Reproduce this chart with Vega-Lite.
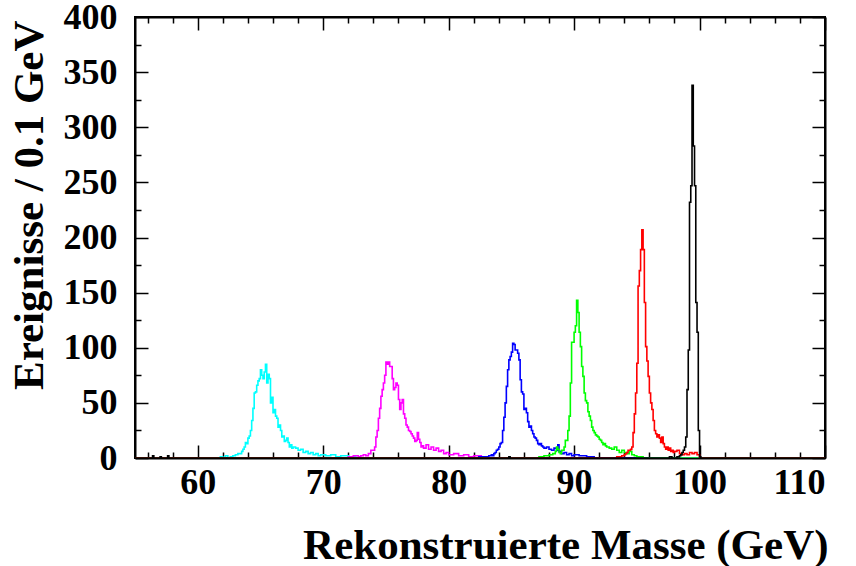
{
  "$schema": "https://vega.github.io/schema/vega-lite/v6.json",
  "width": 690,
  "height": 441,
  "autosize": "none",
  "padding": {"left": 135, "top": 17, "right": 31, "bottom": 108},
  "background": "white",
  "config": {
    "view": {"stroke": "black", "strokeWidth": 2},
    "axis": {
      "grid": false,
      "domainColor": "black",
      "domainWidth": 2,
      "tickColor": "black",
      "tickWidth": 1.5,
      "labelFont": "Liberation Serif",
      "labelFontWeight": "bold",
      "labelFontSize": 36,
      "labelColor": "black",
      "titleFont": "Liberation Serif",
      "titleFontWeight": "bold",
      "titleFontSize": 43,
      "titleColor": "black"
    }
  },
  "data": {
    "values": [
      {"s": "c", "m": 55, "n": 0}, {"s": "c", "m": 61.8, "n": 1}, {"s": "c", "m": 62.0, "n": 0}, {"s": "c", "m": 62.2, "n": 2}, {"s": "c", "m": 62.4, "n": 0}, {"s": "c", "m": 62.6, "n": 1}, {"s": "c", "m": 62.8, "n": 2}, {"s": "c", "m": 63.0, "n": 3}, {"s": "c", "m": 63.2, "n": 4}, {"s": "c", "m": 63.4, "n": 4}, {"s": "c", "m": 63.5, "n": 6}, {"s": "c", "m": 63.6, "n": 8}, {"s": "c", "m": 63.7, "n": 10}, {"s": "c", "m": 63.8, "n": 14}, {"s": "c", "m": 63.9, "n": 13}, {"s": "c", "m": 64.0, "n": 18}, {"s": "c", "m": 64.1, "n": 20}, {"s": "c", "m": 64.2, "n": 25}, {"s": "c", "m": 64.3, "n": 34}, {"s": "c", "m": 64.4, "n": 45}, {"s": "c", "m": 64.5, "n": 59}, {"s": "c", "m": 64.6, "n": 60}, {"s": "c", "m": 64.7, "n": 66}, {"s": "c", "m": 64.8, "n": 70}, {"s": "c", "m": 64.9, "n": 72}, {"s": "c", "m": 65.0, "n": 80}, {"s": "c", "m": 65.1, "n": 75}, {"s": "c", "m": 65.2, "n": 72}, {"s": "c", "m": 65.3, "n": 78}, {"s": "c", "m": 65.4, "n": 85}, {"s": "c", "m": 65.5, "n": 68}, {"s": "c", "m": 65.6, "n": 76}, {"s": "c", "m": 65.7, "n": 72}, {"s": "c", "m": 65.8, "n": 50}, {"s": "c", "m": 65.9, "n": 55}, {"s": "c", "m": 66.0, "n": 41}, {"s": "c", "m": 66.1, "n": 44}, {"s": "c", "m": 66.2, "n": 38}, {"s": "c", "m": 66.3, "n": 36}, {"s": "c", "m": 66.4, "n": 28}, {"s": "c", "m": 66.5, "n": 30}, {"s": "c", "m": 66.6, "n": 25}, {"s": "c", "m": 66.7, "n": 19}, {"s": "c", "m": 66.8, "n": 20}, {"s": "c", "m": 66.9, "n": 15}, {"s": "c", "m": 67.0, "n": 16}, {"s": "c", "m": 67.1, "n": 18}, {"s": "c", "m": 67.2, "n": 14}, {"s": "c", "m": 67.3, "n": 10}, {"s": "c", "m": 67.4, "n": 12}, {"s": "c", "m": 67.5, "n": 9}, {"s": "c", "m": 67.6, "n": 10}, {"s": "c", "m": 67.8, "n": 9}, {"s": "c", "m": 68.0, "n": 7}, {"s": "c", "m": 68.2, "n": 8}, {"s": "c", "m": 68.4, "n": 5}, {"s": "c", "m": 68.6, "n": 6}, {"s": "c", "m": 68.8, "n": 4}, {"s": "c", "m": 69.0, "n": 5}, {"s": "c", "m": 69.2, "n": 3}, {"s": "c", "m": 69.4, "n": 4}, {"s": "c", "m": 69.6, "n": 2}, {"s": "c", "m": 69.8, "n": 3}, {"s": "c", "m": 70.2, "n": 2}, {"s": "c", "m": 70.6, "n": 3}, {"s": "c", "m": 71.0, "n": 1}, {"s": "c", "m": 71.4, "n": 2}, {"s": "c", "m": 72.0, "n": 1}, {"s": "c", "m": 72.6, "n": 0}, {"s": "c", "m": 110, "n": 0},

      {"s": "m", "m": 55, "n": 0}, {"s": "m", "m": 72.0, "n": 1}, {"s": "m", "m": 72.4, "n": 2}, {"s": "m", "m": 72.8, "n": 1}, {"s": "m", "m": 73.0, "n": 2}, {"s": "m", "m": 73.2, "n": 3}, {"s": "m", "m": 73.4, "n": 2}, {"s": "m", "m": 73.6, "n": 4}, {"s": "m", "m": 73.8, "n": 7}, {"s": "m", "m": 74.0, "n": 7}, {"s": "m", "m": 74.1, "n": 10}, {"s": "m", "m": 74.2, "n": 19}, {"s": "m", "m": 74.3, "n": 25}, {"s": "m", "m": 74.4, "n": 36}, {"s": "m", "m": 74.5, "n": 45}, {"s": "m", "m": 74.6, "n": 56}, {"s": "m", "m": 74.7, "n": 62}, {"s": "m", "m": 74.8, "n": 68}, {"s": "m", "m": 74.9, "n": 75}, {"s": "m", "m": 75.0, "n": 87}, {"s": "m", "m": 75.1, "n": 85}, {"s": "m", "m": 75.2, "n": 87}, {"s": "m", "m": 75.3, "n": 83}, {"s": "m", "m": 75.4, "n": 83}, {"s": "m", "m": 75.5, "n": 72}, {"s": "m", "m": 75.6, "n": 62}, {"s": "m", "m": 75.7, "n": 64}, {"s": "m", "m": 75.8, "n": 68}, {"s": "m", "m": 75.9, "n": 66}, {"s": "m", "m": 76.0, "n": 53}, {"s": "m", "m": 76.1, "n": 44}, {"s": "m", "m": 76.2, "n": 50}, {"s": "m", "m": 76.3, "n": 53}, {"s": "m", "m": 76.4, "n": 40}, {"s": "m", "m": 76.5, "n": 36}, {"s": "m", "m": 76.6, "n": 30}, {"s": "m", "m": 76.7, "n": 28}, {"s": "m", "m": 76.8, "n": 25}, {"s": "m", "m": 76.9, "n": 24}, {"s": "m", "m": 77.0, "n": 22}, {"s": "m", "m": 77.1, "n": 20}, {"s": "m", "m": 77.2, "n": 18}, {"s": "m", "m": 77.3, "n": 15}, {"s": "m", "m": 77.4, "n": 16}, {"s": "m", "m": 77.5, "n": 23}, {"s": "m", "m": 77.6, "n": 17}, {"s": "m", "m": 77.7, "n": 14}, {"s": "m", "m": 77.8, "n": 10}, {"s": "m", "m": 77.9, "n": 11}, {"s": "m", "m": 78.0, "n": 9}, {"s": "m", "m": 78.2, "n": 12}, {"s": "m", "m": 78.4, "n": 8}, {"s": "m", "m": 78.6, "n": 10}, {"s": "m", "m": 78.8, "n": 7}, {"s": "m", "m": 79.0, "n": 9}, {"s": "m", "m": 79.2, "n": 6}, {"s": "m", "m": 79.4, "n": 7}, {"s": "m", "m": 79.6, "n": 4}, {"s": "m", "m": 79.8, "n": 5}, {"s": "m", "m": 80.0, "n": 3}, {"s": "m", "m": 80.4, "n": 4}, {"s": "m", "m": 80.8, "n": 2}, {"s": "m", "m": 81.2, "n": 3}, {"s": "m", "m": 81.6, "n": 1}, {"s": "m", "m": 82.0, "n": 2}, {"s": "m", "m": 82.6, "n": 0}, {"s": "m", "m": 110, "n": 0},

      {"s": "b", "m": 55, "n": 0}, {"s": "b", "m": 82.4, "n": 1}, {"s": "b", "m": 83.0, "n": 1}, {"s": "b", "m": 83.2, "n": 2}, {"s": "b", "m": 83.4, "n": 3}, {"s": "b", "m": 83.5, "n": 2}, {"s": "b", "m": 83.6, "n": 4}, {"s": "b", "m": 83.7, "n": 5}, {"s": "b", "m": 83.8, "n": 7}, {"s": "b", "m": 83.9, "n": 8}, {"s": "b", "m": 84.0, "n": 10}, {"s": "b", "m": 84.1, "n": 13}, {"s": "b", "m": 84.2, "n": 14}, {"s": "b", "m": 84.3, "n": 25}, {"s": "b", "m": 84.4, "n": 37}, {"s": "b", "m": 84.5, "n": 50}, {"s": "b", "m": 84.6, "n": 65}, {"s": "b", "m": 84.7, "n": 80}, {"s": "b", "m": 84.8, "n": 89}, {"s": "b", "m": 84.9, "n": 92}, {"s": "b", "m": 85.0, "n": 96}, {"s": "b", "m": 85.1, "n": 104}, {"s": "b", "m": 85.2, "n": 103}, {"s": "b", "m": 85.3, "n": 98}, {"s": "b", "m": 85.4, "n": 98}, {"s": "b", "m": 85.5, "n": 95}, {"s": "b", "m": 85.6, "n": 89}, {"s": "b", "m": 85.7, "n": 71}, {"s": "b", "m": 85.8, "n": 60}, {"s": "b", "m": 85.9, "n": 58}, {"s": "b", "m": 86.0, "n": 44}, {"s": "b", "m": 86.1, "n": 45}, {"s": "b", "m": 86.2, "n": 41}, {"s": "b", "m": 86.3, "n": 33}, {"s": "b", "m": 86.4, "n": 28}, {"s": "b", "m": 86.5, "n": 29}, {"s": "b", "m": 86.6, "n": 25}, {"s": "b", "m": 86.7, "n": 22}, {"s": "b", "m": 86.8, "n": 19}, {"s": "b", "m": 86.9, "n": 18}, {"s": "b", "m": 87.0, "n": 16}, {"s": "b", "m": 87.1, "n": 13}, {"s": "b", "m": 87.2, "n": 12}, {"s": "b", "m": 87.3, "n": 13}, {"s": "b", "m": 87.4, "n": 11}, {"s": "b", "m": 87.5, "n": 10}, {"s": "b", "m": 87.6, "n": 9}, {"s": "b", "m": 87.8, "n": 10}, {"s": "b", "m": 88.0, "n": 8}, {"s": "b", "m": 88.2, "n": 7}, {"s": "b", "m": 88.4, "n": 9}, {"s": "b", "m": 88.6, "n": 7}, {"s": "b", "m": 88.7, "n": 12}, {"s": "b", "m": 88.8, "n": 6}, {"s": "b", "m": 89.0, "n": 4}, {"s": "b", "m": 89.2, "n": 5}, {"s": "b", "m": 89.4, "n": 3}, {"s": "b", "m": 89.6, "n": 4}, {"s": "b", "m": 89.8, "n": 2}, {"s": "b", "m": 90.0, "n": 3}, {"s": "b", "m": 90.4, "n": 2}, {"s": "b", "m": 91.0, "n": 1}, {"s": "b", "m": 91.6, "n": 0}, {"s": "b", "m": 110, "n": 0},

      {"s": "g", "m": 55, "n": 0}, {"s": "g", "m": 87.2, "n": 1}, {"s": "g", "m": 87.6, "n": 2}, {"s": "g", "m": 88.0, "n": 3}, {"s": "g", "m": 88.3, "n": 4}, {"s": "g", "m": 88.5, "n": 6}, {"s": "g", "m": 88.6, "n": 10}, {"s": "g", "m": 88.7, "n": 8}, {"s": "g", "m": 88.8, "n": 5}, {"s": "g", "m": 88.9, "n": 4}, {"s": "g", "m": 89.0, "n": 7}, {"s": "g", "m": 89.1, "n": 7}, {"s": "g", "m": 89.2, "n": 10}, {"s": "g", "m": 89.3, "n": 16}, {"s": "g", "m": 89.4, "n": 16}, {"s": "g", "m": 89.5, "n": 25}, {"s": "g", "m": 89.6, "n": 38}, {"s": "g", "m": 89.7, "n": 68}, {"s": "g", "m": 89.8, "n": 105}, {"s": "g", "m": 89.9, "n": 105}, {"s": "g", "m": 90.0, "n": 114}, {"s": "g", "m": 90.1, "n": 120}, {"s": "g", "m": 90.2, "n": 143}, {"s": "g", "m": 90.3, "n": 132}, {"s": "g", "m": 90.4, "n": 114}, {"s": "g", "m": 90.5, "n": 101}, {"s": "g", "m": 90.6, "n": 83}, {"s": "g", "m": 90.7, "n": 74}, {"s": "g", "m": 90.8, "n": 59}, {"s": "g", "m": 90.9, "n": 52}, {"s": "g", "m": 91.0, "n": 50}, {"s": "g", "m": 91.1, "n": 42}, {"s": "g", "m": 91.2, "n": 38}, {"s": "g", "m": 91.3, "n": 34}, {"s": "g", "m": 91.4, "n": 28}, {"s": "g", "m": 91.5, "n": 25}, {"s": "g", "m": 91.6, "n": 23}, {"s": "g", "m": 91.7, "n": 21}, {"s": "g", "m": 91.8, "n": 20}, {"s": "g", "m": 91.9, "n": 19}, {"s": "g", "m": 92.0, "n": 17}, {"s": "g", "m": 92.1, "n": 16}, {"s": "g", "m": 92.2, "n": 14}, {"s": "g", "m": 92.3, "n": 12}, {"s": "g", "m": 92.4, "n": 13}, {"s": "g", "m": 92.5, "n": 11}, {"s": "g", "m": 92.6, "n": 10}, {"s": "g", "m": 92.8, "n": 9}, {"s": "g", "m": 93.0, "n": 8}, {"s": "g", "m": 93.2, "n": 10}, {"s": "g", "m": 93.4, "n": 7}, {"s": "g", "m": 93.6, "n": 5}, {"s": "g", "m": 93.8, "n": 7}, {"s": "g", "m": 94.0, "n": 5}, {"s": "g", "m": 94.2, "n": 4}, {"s": "g", "m": 94.4, "n": 6}, {"s": "g", "m": 94.6, "n": 3}, {"s": "g", "m": 94.8, "n": 2}, {"s": "g", "m": 95.0, "n": 1}, {"s": "g", "m": 95.5, "n": 0}, {"s": "g", "m": 110, "n": 0},

      {"s": "r", "m": 55, "n": 0}, {"s": "r", "m": 93.4, "n": 1}, {"s": "r", "m": 93.8, "n": 2}, {"s": "r", "m": 94.0, "n": 3}, {"s": "r", "m": 94.1, "n": 4}, {"s": "r", "m": 94.2, "n": 5}, {"s": "r", "m": 94.3, "n": 7}, {"s": "r", "m": 94.4, "n": 7}, {"s": "r", "m": 94.5, "n": 8}, {"s": "r", "m": 94.6, "n": 10}, {"s": "r", "m": 94.7, "n": 23}, {"s": "r", "m": 94.8, "n": 40}, {"s": "r", "m": 94.9, "n": 59}, {"s": "r", "m": 95.0, "n": 86}, {"s": "r", "m": 95.1, "n": 156}, {"s": "r", "m": 95.2, "n": 170}, {"s": "r", "m": 95.3, "n": 189}, {"s": "r", "m": 95.4, "n": 207}, {"s": "r", "m": 95.5, "n": 189}, {"s": "r", "m": 95.6, "n": 141}, {"s": "r", "m": 95.7, "n": 101}, {"s": "r", "m": 95.8, "n": 88}, {"s": "r", "m": 95.9, "n": 74}, {"s": "r", "m": 96.0, "n": 59}, {"s": "r", "m": 96.1, "n": 50}, {"s": "r", "m": 96.2, "n": 44}, {"s": "r", "m": 96.3, "n": 34}, {"s": "r", "m": 96.4, "n": 25}, {"s": "r", "m": 96.5, "n": 22}, {"s": "r", "m": 96.6, "n": 19}, {"s": "r", "m": 96.7, "n": 21}, {"s": "r", "m": 96.8, "n": 18}, {"s": "r", "m": 96.9, "n": 14}, {"s": "r", "m": 97.0, "n": 19}, {"s": "r", "m": 97.1, "n": 13}, {"s": "r", "m": 97.2, "n": 10}, {"s": "r", "m": 97.3, "n": 8}, {"s": "r", "m": 97.4, "n": 10}, {"s": "r", "m": 97.5, "n": 7}, {"s": "r", "m": 97.6, "n": 9}, {"s": "r", "m": 97.7, "n": 6}, {"s": "r", "m": 97.8, "n": 7}, {"s": "r", "m": 97.9, "n": 5}, {"s": "r", "m": 98.0, "n": 6}, {"s": "r", "m": 98.2, "n": 7}, {"s": "r", "m": 98.4, "n": 4}, {"s": "r", "m": 98.6, "n": 3}, {"s": "r", "m": 98.8, "n": 4}, {"s": "r", "m": 99.0, "n": 3}, {"s": "r", "m": 99.2, "n": 5}, {"s": "r", "m": 99.4, "n": 4}, {"s": "r", "m": 99.6, "n": 5}, {"s": "r", "m": 99.8, "n": 3}, {"s": "r", "m": 100.0, "n": 0}, {"s": "r", "m": 110, "n": 0},

      {"s": "k", "m": 55, "n": 0}, {"s": "k", "m": 56.4, "n": 2}, {"s": "k", "m": 56.5, "n": 0}, {"s": "k", "m": 57.0, "n": 1}, {"s": "k", "m": 57.1, "n": 0}, {"s": "k", "m": 57.6, "n": 2}, {"s": "k", "m": 57.7, "n": 0}, {"s": "k", "m": 84.8, "n": 1}, {"s": "k", "m": 84.9, "n": 0}, {"s": "k", "m": 97.6, "n": 1}, {"s": "k", "m": 97.8, "n": 0}, {"s": "k", "m": 98.2, "n": 1}, {"s": "k", "m": 98.4, "n": 2}, {"s": "k", "m": 98.5, "n": 3}, {"s": "k", "m": 98.6, "n": 5}, {"s": "k", "m": 98.7, "n": 7}, {"s": "k", "m": 98.8, "n": 10}, {"s": "k", "m": 98.9, "n": 19}, {"s": "k", "m": 99.0, "n": 62}, {"s": "k", "m": 99.1, "n": 98}, {"s": "k", "m": 99.2, "n": 232}, {"s": "k", "m": 99.3, "n": 247}, {"s": "k", "m": 99.4, "n": 338}, {"s": "k", "m": 99.5, "n": 283}, {"s": "k", "m": 99.6, "n": 247}, {"s": "k", "m": 99.7, "n": 141}, {"s": "k", "m": 99.8, "n": 114}, {"s": "k", "m": 99.9, "n": 25}, {"s": "k", "m": 100.0, "n": 1}, {"s": "k", "m": 100.1, "n": 0}, {"s": "k", "m": 110, "n": 0}
    ]
  },
  "layer": [
    {
      "mark": {"type": "line", "interpolate": "step-after", "strokeWidth": 1.6, "clip": true},
      "encoding": {
        "x": {
          "field": "m", "type": "quantitative",
          "scale": {"domain": [55, 110], "nice": false, "zero": false},
          "axis": {
            "orient": "bottom", "values": [60, 70, 80, 90, 100, 110], "tickSize": -13, "labelPadding": 20,
            "title": "Rekonstruierte Masse (GeV)", "titleX": 693, "titleY": 100, "titleAlign": "right", "titleBaseline": "alphabetic", "titleAnchor": null
          }
        },
        "y": {
          "field": "n", "type": "quantitative",
          "scale": {"domain": [0, 400], "nice": false},
          "axis": {
            "orient": "left", "values": [0, 50, 100, 150, 200, 250, 300, 350, 400], "tickSize": -13, "labelPadding": 31,
            "title": "Ereignisse / 0.1 GeV", "titleX": -93, "titleY": 3, "titleAngle": -90, "titleAlign": "right", "titleBaseline": "alphabetic", "titleAnchor": null
          }
        },
        "color": {
          "field": "s", "type": "nominal", "legend": null,
          "scale": {"domain": ["c", "m", "b", "g", "r", "k"], "range": ["#00ffff", "#ff00ff", "#0000ff", "#00ff00", "#ff0000", "#000000"]}
        }
      }
    },
    {
      "mark": {"type": "point", "opacity": 0},
      "encoding": {
        "x": {"field": "m", "type": "quantitative", "scale": {"domain": [55, 110], "nice": false, "zero": false},
          "axis": {"orient": "bottom", "values": [56, 58, 62, 64, 66, 68, 72, 74, 76, 78, 82, 84, 86, 88, 92, 94, 96, 98, 102, 104, 106, 108], "tickSize": -6, "labels": false, "domain": false, "title": null}},
        "y": {"field": "n", "type": "quantitative", "scale": {"domain": [0, 400], "nice": false},
          "axis": {"orient": "left", "values": [25, 75, 125, 175, 225, 275, 325, 375], "tickSize": -6, "labels": false, "domain": false, "title": null}}
      }
    },
    {
      "mark": {"type": "point", "opacity": 0},
      "encoding": {
        "x": {"field": "m", "type": "quantitative", "scale": {"domain": [55, 110], "nice": false, "zero": false},
          "axis": {"orient": "top", "values": [60, 70, 80, 90, 100, 110], "tickSize": -13, "labels": false, "title": null}},
        "y": {"field": "n", "type": "quantitative", "scale": {"domain": [0, 400], "nice": false},
          "axis": {"orient": "right", "values": [0, 50, 100, 150, 200, 250, 300, 350, 400], "tickSize": -13, "labels": false, "title": null}}
      }
    },
    {
      "mark": {"type": "point", "opacity": 0},
      "encoding": {
        "x": {"field": "m", "type": "quantitative", "scale": {"domain": [55, 110], "nice": false, "zero": false},
          "axis": {"orient": "top", "values": [56, 58, 62, 64, 66, 68, 72, 74, 76, 78, 82, 84, 86, 88, 92, 94, 96, 98, 102, 104, 106, 108], "tickSize": -6, "labels": false, "domain": false, "title": null}},
        "y": {"field": "n", "type": "quantitative", "scale": {"domain": [0, 400], "nice": false},
          "axis": {"orient": "right", "values": [25, 75, 125, 175, 225, 275, 325, 375], "tickSize": -6, "labels": false, "domain": false, "title": null}}
      }
    }
  ],
  "resolve": {"axis": {"x": "independent", "y": "independent"}}
}
